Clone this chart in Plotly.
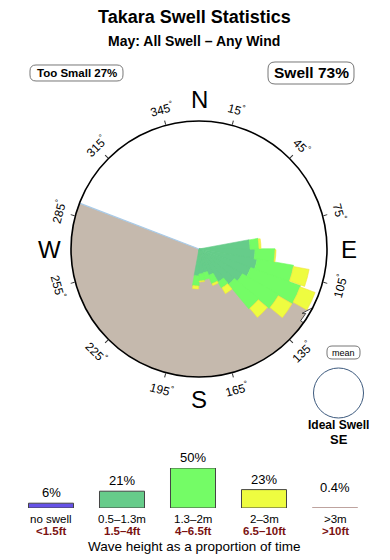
import math
import plotly.graph_objects as go

# ---------------- data ----------------
directions = [85, 95, 105, 115, 125, 135, 145, 155, 165, 175, 185]   # swell direction (deg)
band_05_13 = [51, 56, 59, 55, 50, 46, 38, 28, 24, 25, 27]            # 0.5-1.3m segment
band_13_20 = [9, 20, 37, 53, 42, 32, 7, 9, 7, 7, 10]                 # 1.3-2m segment
band_20_30 = [2, 1, 16, 16, 16, 12, 7, 2, 0, 1, 3]                   # 2-3m segment
rose_max = 128

land_from, land_to = 119, 291           # land sector (clockwise from -> to)

legend_names = ["no swell", "0.5–1.3m", "1.3–2m", "2–3m", ">3m"]
legend_feet = ["<1.5ft", "1.5–4ft", "4–6.5ft", "6.5–10ft", ">10ft"]
legend_pct = [6, 21, 50, 23, 0.4]
legend_pct_text = ["6%", "21%", "50%", "23%", "0.4%"]

degree_ticks = [15, 45, 75, 105, 135, 165, 195, 225, 255, 285, 315, 345]
compass_letters = ["N", "E", "S", "W"]
compass_bearings = [0, 90, 180, 270]

title = "Takara Swell Statistics"
subtitle = "May: All Swell – Any Wind"
too_small_text = "Too Small 27%"
swell_text = "Swell 73%"
ideal_text = "Ideal Swell"
ideal_dir = "SE"

# ---------------- style ----------------
W, H = 390, 560
CX, CY, R = 199, 249, 128
FONT = "Liberation Sans"
C_LAND = "#c5b9ad"
C_NOSWELL = "#6652e8"
C_0513 = "#66cc8a"
C_1320 = "#74fc66"
C_2030 = "#eefc40"
C_3P = "#d8b0a8"
DARKRED = "#7a1212"


def px(x):
    return x / W


def py(y):
    return 1 - y / H


fig = go.Figure()

# land sector
span = (land_to - land_from) % 360
fig.add_trace(go.Barpolar(
    r=[rose_max], theta=[land_from + span / 2], width=[span],
    marker=dict(color=C_LAND, line=dict(width=0)), hoverinfo="skip"))
# coastline edge
fig.add_trace(go.Scatterpolar(
    r=[0, rose_max], theta=[land_to, land_to], mode="lines",
    line=dict(color="#a9cbe8", width=1.2), hoverinfo="skip"))

# swell rose (stacked)
fig.add_trace(go.Barpolar(r=band_05_13, theta=directions, width=11,
                          marker=dict(color=C_0513, line=dict(color=C_0513, width=0.6))))
fig.add_trace(go.Barpolar(r=band_13_20, theta=directions, width=10.5,
                          marker=dict(color=C_1320, line=dict(color=C_1320, width=0.6))))
fig.add_trace(go.Barpolar(r=band_20_30, theta=directions, width=9,
                          marker=dict(color=C_2030, line=dict(color="#f2e040", width=0.6))))

# small white pointer near the rim
tip = (312, 308)
ang = math.radians(35)
u = (math.sin(ang), -math.cos(ang))
v = (math.cos(ang), math.sin(ang))
local = [(0, 0), (-10, 5), (-8, 2), (-17, 2), (-17, -2), (-8, -2), (-10, -5), (0, 0)]
ar, at = [], []
for a, b in local:
    x = tip[0] + a * u[0] + b * v[0]
    y = tip[1] + a * u[1] + b * v[1]
    dx, dy = x - CX, y - CY
    ar.append(math.hypot(dx, dy))
    at.append(math.degrees(math.atan2(dx, -dy)) % 360)
fig.add_trace(go.Scatterpolar(r=ar, theta=at, mode="lines", fill="toself",
                              fillcolor="white", line=dict(color="#222", width=0.8),
                              hoverinfo="skip"))

fig.update_layout(
    polar=dict(
        domain=dict(x=[px(CX - R), px(CX + R)], y=[py(CY + R), py(CY - R)]),
        bgcolor="white",
        barmode="stack",
        radialaxis=dict(visible=False, range=[0, rose_max]),
        angularaxis=dict(direction="clockwise", rotation=90, showgrid=False,
                         showline=True, linecolor="black", linewidth=1.6,
                         ticks="outside", ticklen=4, tickwidth=1, tickcolor="#333",
                         tickmode="array", tickvals=degree_ticks,
                         showticklabels=False),
    )
)

# legend bars
fig.add_trace(go.Bar(
    x=list(range(len(legend_pct))), y=legend_pct, width=0.634,
    marker=dict(color=[C_NOSWELL, C_0513, C_1320, C_2030, C_3P],
                line=dict(color=["#444", "#444", "#444", "#444", "#b89c98"], width=1)),
    xaxis="x", yaxis="y", cliponaxis=False, hoverinfo="skip"))
fig.update_layout(
    xaxis=dict(domain=[px(15.5), px(370.5)], range=[-0.5, 4.5], visible=False, fixedrange=True),
    yaxis=dict(domain=[py(508), py(468)], range=[0, 50], visible=False, fixedrange=True),
)


def A(x, y, text, size, color="black", **kw):
    d = dict(x=x, y=y, text=text, showarrow=False, xanchor="center", yanchor="middle",
             font=dict(family=FONT, size=size, color=color))
    d.setdefault("xref", "paper")
    d.setdefault("yref", "paper")
    d.update(kw)
    return d


ann = []
for i, (p, t) in enumerate(zip(legend_pct, legend_pct_text)):
    ann.append(A(i, p if p > 3 else 13, t, 13, xref="x", yref="y",
                 yanchor="bottom", yshift=1))
    ann.append(A(i, py(518.5), legend_names[i], 11.5, xref="x"))
    ann.append(A(i, py(530.5), "<b>" + legend_feet[i] + "</b>", 11.5, DARKRED, xref="x"))

ann.append(A(px(194.5), py(546), "Wave height as a proportion of time", 13.5))

# titles
ann.append(A(px(194), py(17), "<b>" + title + "</b>", 18))
ann.append(A(px(194), py(41), "<b>" + subtitle + "</b>", 14))
ann.append(A(px(76.5), py(73), "<b>" + too_small_text + "</b>", 11.5))
ann.append(A(px(311), py(73), "<b>" + swell_text + "</b>", 15.5))
ann.append(A(px(343.5), py(352.5), "mean", 9))
ann.append(A(px(338.5), py(425), "<b>" + ideal_text + "</b>", 12))
ann.append(A(px(338.5), py(439), "<b>" + ideal_dir + "</b>", 13))

# compass letters
for L, b in zip(compass_letters, compass_bearings):
    rr = 150
    x = CX + rr * math.sin(math.radians(b))
    y = CY - rr * math.cos(math.radians(b))
    ann.append(A(px(x), py(y), L, 24))

# degree labels
for b in degree_ticks:
    rr = 145
    x = CX + rr * math.sin(math.radians(b))
    y = CY - rr * math.cos(math.radians(b))
    rot = b if (b < 90 or b > 270) else b - 180
    if rot > 180:
        rot -= 360
    ann.append(A(px(x), py(y), f"{b}<sup>°</sup>", 12, textangle=rot))


def rrect(x0, y0, x1, y1, r):
    pts = [("M", x0 + r, y0), ("L", x1 - r, y0), ("Q", x1, y0, x1, y0 + r),
           ("L", x1, y1 - r), ("Q", x1, y1, x1 - r, y1), ("L", x0 + r, y1),
           ("Q", x0, y1, x0, y1 - r), ("L", x0, y0 + r), ("Q", x0, y0, x0 + r, y0)]
    s = ""
    for p in pts:
        cmd = p[0]
        coords = p[1:]
        parts = []
        for j in range(0, len(coords), 2):
            parts.append(f"{px(coords[j]):.5f},{py(coords[j + 1]):.5f}")
        s += cmd + " " + " ".join(parts) + " "
    return s + "Z"


shapes = [
    dict(type="path", path=rrect(30, 65, 123, 81, 6), xref="paper", yref="paper",
         line=dict(color="#777", width=1)),
    dict(type="path", path=rrect(268, 62, 354, 84, 7), xref="paper", yref="paper",
         line=dict(color="#777", width=1)),
    dict(type="path", path=rrect(327, 346, 360, 359, 5), xref="paper", yref="paper",
         line=dict(color="#777", width=1)),
    dict(type="circle", xref="paper", yref="paper", x0=px(313.5), x1=px(363.5),
         y0=py(418), y1=py(368), line=dict(color="#3d5a7e", width=1)),
]

fig.update_layout(
    width=W, height=H, margin=dict(l=0, r=0, t=0, b=0),
    paper_bgcolor="white", plot_bgcolor="white", showlegend=False,
    annotations=ann, shapes=shapes,
)

fig.write_html("out.html", config={"displayModeBar": False})
